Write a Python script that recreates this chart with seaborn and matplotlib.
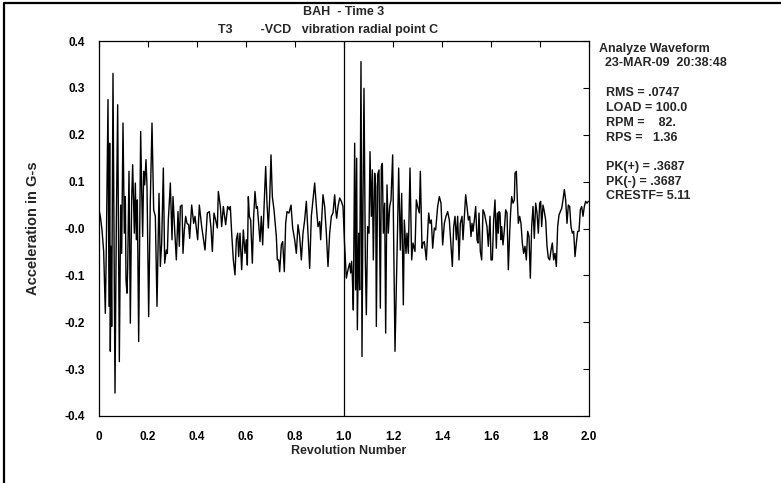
import numpy as np
import pandas as pd
import matplotlib
matplotlib.use("Agg")
import matplotlib.pyplot as plt
from matplotlib.lines import Line2D
import seaborn as sns

# ---- data ----
SAMPLES_PER_REV = 735  # sample index units per revolution

seg_a = [(0, 0.040), (4, 0.026), (9, -0.003), (14, -0.049), (19, -0.181), (22, -0.038),
         (27, 0.275), (30, -0.166), (32, 0.182), (34, -0.262), (36, -0.038), (38, -0.209),
         (42, 0.331), (48, -0.351), (52, 0.011), (56, 0.264), (61, -0.284), (65, 0.050),
         (68, -0.053), (72, 0.225), (76, -0.010), (79, 0.068), (81, -0.110), (84, -0.138),
         (86, -0.085), (90, 0.122), (94, -0.202), (98, 0.061), (101, 0.136), (106, -0.010),
         (109, 0.097), (112, -0.024), (115, 0.061), (119, -0.241), (125, 0.207), (128, 0.083),
         (131, -0.017), (134, 0.122), (137, 0.093), (141, 0.147), (144, 0.090), (149, -0.188),
         (154, 0.061), (159, 0.225), (164, 0.040), (169, 0.026), (174, -0.166), (180, 0.075),
         (184, -0.081), (188, -0.031), (193, 0.129), (197, -0.074), (202, -0.046), (205, -0.053),
         (208, 0.018), (214, 0.097), (219, -0.024), (222, 0.068), (227, -0.003), (232, -0.067),
         (237, 0.036), (241, -0.038), (244, 0.047), (249, 0.050), (252, -0.053), (256, -0.003),
         (260, 0.026), (264, 0.011), (269, 0.008), (272, -0.021), (278, 0.050), (284, 0.011)]

seg_b = [(288, 0.026), (296, -0.024), (301, 0.050), (308, 0.004), (318, -0.046), (325, 0.033),
         (331, 0.036), (336, 0.001), (340, -0.049), (345, 0.033), (350, 0.018), (355, 0.001),
         (358, 0.079), (364, 0.047), (368, 0.004), (373, 0.047), (380, 0.008), (386, 0.047),
         (391, 0.040), (394, 0.047), (398, -0.010), (403, -0.067), (408, -0.099), (412, -0.024),
         (416, -0.010), (419, -0.060), (423, -0.010), (428, -0.088), (433, -0.003), (438, -0.053),
         (442, -0.024), (445, -0.078), (448, 0.068), (451, 0.026), (455, 0.018), (460, -0.074),
         (464, 0.026), (468, 0.079), (472, 0.043), (475, 0.047), (479, 0.011), (483, -0.028),
         (487, 0.026), (491, -0.035), (495, 0.043), (500, 0.132), (504, 0.054), (508, 0.001),
         (512, 0.061), (516, 0.157), (520, 0.068), (525, 0.040), (532, -0.017), (535, -0.067),
         (539, -0.067), (542, -0.092), (547, -0.035), (551, -0.028), (556, -0.092), (560, 0.011),
         (564, 0.036), (570, 0.033), (576, 0.050), (581, 0.001)]

seg_c = [(587, -0.024), (592, -0.053), (597, 0.008), (602, -0.017), (607, -0.067), (612, -0.010),
         (617, 0.018), (622, 0.058), (627, -0.010), (632, -0.085), (637, 0.026), (642, 0.061),
         (647, 0.097), (652, 0.047), (657, 0.004), (662, 0.015), (665, -0.024), (672, 0.072),
         (677, 0.047), (682, -0.010), (687, -0.081), (692, -0.010), (697, 0.026), (702, 0.033),
         (707, 0.072), (710, 0.040), (713, 0.022), (717, 0.047), (722, 0.065), (727, 0.058),
         (732, 0.047), (737, -0.038), (742, -0.106), (747, -0.088), (752, -0.074), (755, -0.095),
         (758, -0.070), (760, -0.102), (763, -0.174), (767, 0.182), (770, -0.131), (773, 0.150),
         (775, -0.216), (779, -0.010), (782, -0.131), (786, 0.356), (789, -0.273), (792, 0.061),
         (795, 0.299), (799, -0.067), (802, -0.184), (806, 0.004), (810, -0.010), (813, 0.164),
         (817, 0.026), (820, 0.125), (823, -0.067), (827, 0.118), (830, 0.090), (832, -0.209),
         (836, 0.115), (840, 0.125), (844, -0.170), (847, 0.132), (850, 0.139), (853, -0.010),
         (857, 0.054), (860, -0.223), (864, 0.093), (868, -0.010), (872, 0.047), (876, 0.061),
         (881, 0.157)]

seg_d = [(888, -0.262), (896, 0.011), (899, 0.129), (904, -0.046), (908, 0.075), (913, -0.163),
         (916, 0.018), (921, -0.053), (924, -0.010), (928, -0.053), (933, 0.129), (938, -0.067),
         (942, -0.031), (948, -0.049), (952, 0.061), (956, 0.047), (961, 0.033), (964, 0.122),
         (969, -0.042), (972, -0.031), (976, -0.028), (982, -0.067), (989, 0.033), (993, 0.011),
         (997, 0.018), (1001, -0.042), (1006, 0.001), (1010, -0.003), (1016, 0.047), (1021, 0.068),
         (1026, 0.054), (1031, -0.035), (1036, 0.011), (1041, 0.026), (1046, 0.036), (1051, 0.018),
         (1056, -0.038), (1060, -0.081), (1064, 0.004), (1068, 0.026), (1072, -0.024), (1076, 0.026),
         (1080, -0.067), (1084, 0.011), (1089, 0.026), (1092, -0.024), (1096, 0.026), (1100, 0.072),
         (1104, 0.047), (1108, 0.018), (1112, 0.026), (1116, -0.017), (1119, 0.011), (1122, -0.006),
         (1126, 0.018), (1130, 0.047), (1134, -0.024), (1137, -0.031), (1140, 0.033), (1144, -0.049),
         (1148, -0.067), (1152, 0.040), (1156, 0.033), (1160, 0.018), (1164, 0.004), (1168, -0.038)]

seg_e = [(1173, 0.026), (1176, -0.067), (1180, -0.067), (1184, 0.018), (1188, 0.061), (1192, -0.042),
         (1195, 0.033), (1198, -0.010), (1200, 0.036), (1203, 0.033), (1206, -0.024), (1208, 0.004),
         (1212, -0.035), (1216, -0.003), (1220, 0.040), (1224, 0.033), (1228, -0.088), (1232, -0.010),
         (1235, 0.036), (1238, 0.068), (1242, 0.054), (1246, 0.061), (1248, 0.118), (1252, 0.122),
         (1255, 0.061), (1258, 0.011), (1262, 0.026), (1266, 0.011), (1270, -0.031), (1274, -0.053),
         (1278, -0.038), (1282, -0.067), (1286, -0.006), (1290, -0.017), (1294, -0.106), (1298, 0.004),
         (1302, 0.047), (1306, -0.021), (1310, 0.054), (1314, 0.033), (1318, -0.010), (1322, 0.054),
         (1325, 0.058), (1328, 0.004), (1332, 0.050), (1336, 0.036), (1340, 0.018), (1344, -0.038),
         (1348, -0.063), (1352, -0.067), (1356, -0.046), (1360, -0.031), (1364, -0.067), (1368, -0.053),
         (1372, -0.081), (1376, 0.004), (1380, 0.029), (1384, 0.036), (1388, 0.043), (1392, 0.061),
         (1396, 0.083), (1400, 0.061), (1404, 0.011), (1408, 0.050), (1412, 0.047), (1416, 0.004),
         (1420, -0.010), (1424, -0.006), (1428, -0.060), (1432, -0.031), (1436, -0.006), (1440, -0.006),
         (1444, 0.040), (1448, 0.047), (1452, 0.026), (1456, 0.047), (1460, 0.058), (1464, 0.054),
         (1468, 0.058)]

x_ticks = [0, 0.2, 0.4, 0.6, 0.8, 1.0, 1.2, 1.4, 1.6, 1.8, 2.0]
x_tick_labels = ["0", "0.2", "0.4", "0.6", "0.8", "1.0", "1.2", "1.4", "1.6", "1.8", "2.0"]
y_ticks = [0.4, 0.3, 0.2, 0.1, 0.0, -0.1, -0.2, -0.3, -0.4]
y_tick_labels = ["0.4", "0.3", "0.2", "0.1", "-0.0", "-0.1", "-0.2", "-0.3", "-0.4"]
rev_marker = 1.0

title_1 = "BAH  - Time 3"
title_2 = "T3        -VCD   vibration radial point C"
info_head = ["Analyze Waveform", "23-MAR-09  20:38:48"]
info_stats = ["RMS = .0747", "LOAD = 100.0", "RPM =    82.", "RPS =   1.36"]
info_peaks = ["PK(+) = .3687", "PK(-) = .3687", "CRESTF= 5.11"]

# ---- build frame ----
pts = np.array(seg_a + seg_b + seg_c + seg_d + seg_e, dtype=float)
df = pd.DataFrame({"Revolution Number": pts[:, 0] / SAMPLES_PER_REV,
                   "Acceleration in G-s": pts[:, 1]})

sns.set_theme(style="white")
plt.rcParams["font.family"] = ["Liberation Sans", "DejaVu Sans"]
plt.rcParams["font.weight"] = "bold"

W, H = 781, 483
fig = plt.figure(figsize=(W / 100, H / 100), dpi=100)
fig.patch.set_facecolor("white")
ax = fig.add_axes([99 / W, 1 - 416 / H, 490 / W, 375 / H])

sns.lineplot(data=df, x="Revolution Number", y="Acceleration in G-s", ax=ax,
             color="black", linewidth=1.0, estimator=None, sort=False)
ax.axvline(rev_marker, color="black", linewidth=0.9)

ax.set_xlim(0, 2.0)
ax.set_ylim(-0.4, 0.4)
ax.set_xticks(x_ticks)
ax.set_xticklabels(x_tick_labels)
ax.set_yticks(y_ticks)
ax.set_yticklabels(y_tick_labels)
ax.set_xlabel("")
ax.set_ylabel("")
for s in ax.spines.values():
    s.set_color("black")
    s.set_linewidth(0.9)
ax.tick_params(axis="both", which="both", direction="in", top=True, right=True,
               length=4, width=0.8, color="black", labelsize=8.5, labelcolor="black")
ax.tick_params(axis="x", pad=11)
ax.tick_params(axis="y", pad=10)
for lab in ax.get_xticklabels() + ax.get_yticklabels():
    lab.set_fontweight("bold")

fs = 9
fig.text(33 / W, 1 - 228 / H, "Acceleration in G-s", rotation=90, ha="center", va="center",
         fontsize=10.5, fontweight="bold")
fig.text(349 / W, 1 - 451 / H, "Revolution Number", ha="center", va="center",
         fontsize=fs, fontweight="bold")
fig.text(344 / W, 1 - 12 / H, title_1, ha="center", va="center", fontsize=fs, fontweight="bold")
fig.text(218 / W, 1 - 30 / H, title_2, ha="left", va="center", fontsize=fs, fontweight="bold")

fig.text(599 / W, 1 - 49 / H, info_head[0], ha="left", va="center", fontsize=fs, fontweight="bold")
fig.text(605 / W, 1 - 63 / H, info_head[1], ha="left", va="center", fontsize=fs, fontweight="bold")
for i, t in enumerate(info_stats):
    fig.text(606 / W, 1 - (93 + 15 * i) / H, t, ha="left", va="center", fontsize=fs, fontweight="bold")
for i, t in enumerate(info_peaks):
    fig.text(606 / W, 1 - (167 + 14.5 * i) / H, t, ha="left", va="center", fontsize=fs, fontweight="bold")

# frame around the page (left and top edges visible)
fig.add_artist(Line2D([4 / W, 4 / W, 1.0], [0.0, 1 - 3 / H, 1 - 3 / H],
                      transform=fig.transFigure, color="black", linewidth=1.6))

fig.savefig("out.png", dpi=100)
